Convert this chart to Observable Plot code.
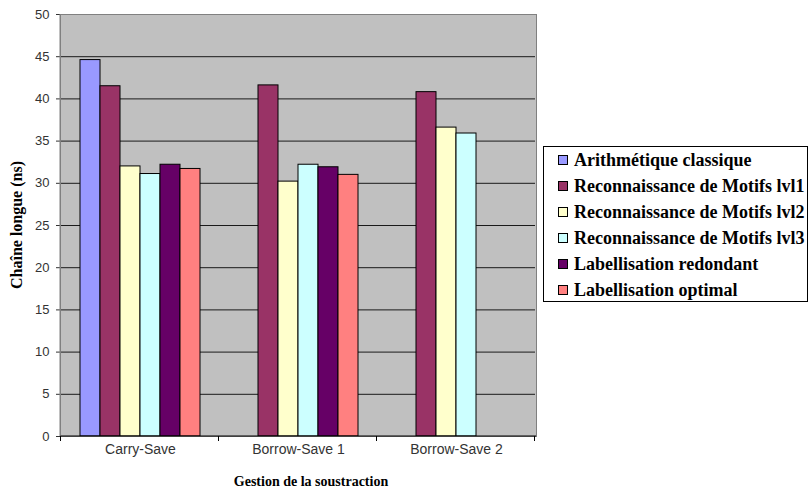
<!DOCTYPE html>
<html>
<head>
<meta charset="utf-8">
<script src="https://cdn.jsdelivr.net/npm/d3@7"></script>
<script src="https://cdn.jsdelivr.net/npm/@observablehq/plot@0.6"></script>
<style>
  body { margin: 0; background: #fff; }
  #wrap { position: relative; width: 809px; height: 492px; }
  #legend {
    position: absolute; left: 543px; top: 146px; width: 263px; height: 154px;
    border: 1px solid #000; background: #fff;
    font-family: "Liberation Serif", "DejaVu Serif", "Times New Roman", serif; font-weight: bold; font-size: 18px;
  }
  .item { position: absolute; left: 14px; height: 26px; line-height: 26px; white-space: nowrap; }
  .sw { display: inline-block; width: 8px; height: 8px; border: 1px solid #000; margin-right: 6px; vertical-align: 1px; }
</style>
</head>
<body>
<div id="wrap"><div id="chart"></div><div id="legend"></div></div>
<script>
const groups = ["Carry-Save", "Borrow-Save 1", "Borrow-Save 2"];
const series = [
  "Arithmétique classique",
  "Reconnaissance de Motifs lvl1",
  "Reconnaissance de Motifs lvl2",
  "Reconnaissance de Motifs lvl3",
  "Labellisation redondant",
  "Labellisation optimal"
];
const arithmetique = [44.6, null, null];
const motifsLvl1 = [41.5, 41.6, 40.8];
const motifsLvl2 = [32.0, 30.2, 36.6];
const motifsLvl3 = [31.1, 32.2, 35.9];
const labRedondant = [32.2, 31.9, null];
const labOptimal = [31.7, 31.0, null];
const colors = ["#9999FF", "#993366", "#FFFFCC", "#CCFFFF", "#660066", "#FF8080"];
const yTicks = [0, 5, 10, 15, 20, 25, 30, 35, 40, 45, 50];
const yTitle = "Chaîne longue (ns)";
const xTitle = "Gestion de la soustraction";

const seriesValues = [arithmetique, motifsLvl1, motifsLvl2, motifsLvl3, labRedondant, labOptimal];
const data = [];
groups.forEach((g, gi) => {
  series.forEach((s, si) => {
    const v = seriesValues[si][gi];
    if (v != null) data.push({group: g, series: s, value: v});
  });
});

const serifFont = "'Liberation Serif', 'DejaVu Serif', 'Times New Roman', serif";

const chart = Plot.plot({
  width: 809,
  height: 492,
  marginLeft: 60,
  marginRight: 273,
  marginTop: 14,
  marginBottom: 56,
  style: {background: "transparent", fontFamily: "Liberation Sans, Arial, sans-serif", fontSize: "13px", color: "#333"},
  fx: {domain: groups, padding: 0, label: null},
  x: {domain: series, paddingInner: 0, paddingOuter: 0.78, axis: null},
  y: {domain: [0, 50], label: null},
  color: {domain: series, range: colors},
  marks: [
    Plot.ruleY(yTicks, {stroke: "#1a1a1a", strokeWidth: 1}),
    Plot.barY(data, {fx: "group", x: "series", y: "value", fill: "series", stroke: "#000", strokeWidth: 1}),
    Plot.axisY({ticks: yTicks, tickSize: 5, tickPadding: 7, label: null, stroke: "#333", fill: "#333"}),
    Plot.axisFx({anchor: "bottom", tickSize: 0, tickPadding: 8, label: null, fill: "#333", fontSize: 14})
  ]
});
document.getElementById("chart").appendChild(chart);

// background, frame border, boundary ticks and titles, positioned from the library's scales
const svg = d3.select(chart);
const fx = chart.scale("fx");
const y = chart.scale("y");
const x0 = fx.range[0], x1 = fx.range[1];
const yTop = y.apply(50), yBot = y.apply(0);
svg.insert("rect", "g").attr("x", x0).attr("y", yTop).attr("width", x1 - x0).attr("height", yBot - yTop)
  .attr("fill", "#C0C0C0");
svg.append("rect").attr("x", x0).attr("y", yTop).attr("width", x1 - x0).attr("height", yBot - yTop)
  .attr("fill", "none").attr("stroke", "#808080").attr("stroke-width", 1).attr("shape-rendering", "crispEdges");
svg.append("line").attr("x1", x0).attr("x2", x1).attr("y1", yBot).attr("y2", yBot).attr("stroke", "#000");
svg.append("line").attr("x1", x0).attr("x2", x0).attr("y1", yTop).attr("y2", yBot).attr("stroke", "#808080");
for (let i = 0; i <= groups.length; i++) {
  const bx = Math.round(x0 + i * fx.step) + 0.5;
  svg.append("line").attr("x1", bx).attr("x2", bx).attr("y1", yBot).attr("y2", yBot + 5).attr("stroke", "#000");
}
svg.append("text").attr("transform", `translate(22,${(yTop + yBot) / 2}) rotate(-90)`)
  .attr("text-anchor", "middle").style("font-family", serifFont).attr("font-weight", "bold")
  .attr("font-size", 16).attr("fill", "#000").text(yTitle);
svg.append("text").attr("x", (x0 + x1) / 2 + 13).attr("y", 486)
  .attr("text-anchor", "middle").style("font-family", serifFont).attr("font-weight", "bold")
  .attr("font-size", 14).attr("fill", "#000").text(xTitle);

const legend = d3.select("#legend");
series.forEach((s, i) => {
  const it = legend.append("div").attr("class", "item").style("top", (i * 26) + "px");
  it.append("span").attr("class", "sw").style("background", colors[i]);
  it.append("span").text(s);
});
</script>
</body>
</html>
